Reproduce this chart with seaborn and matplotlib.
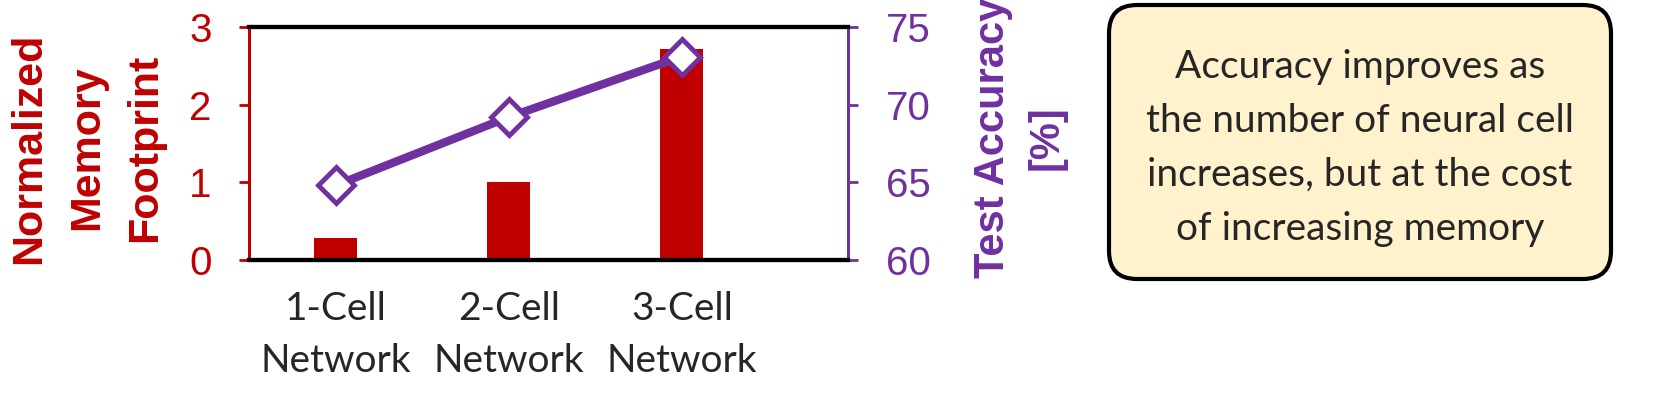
import numpy as np
import pandas as pd
import matplotlib
matplotlib.use('Agg')
import matplotlib.pyplot as plt
from matplotlib.patches import FancyBboxPatch
from matplotlib.transforms import IdentityTransform
import seaborn as sns

networks = ['1-Cell\nNetwork', '2-Cell\nNetwork', '3-Cell\nNetwork']
memory = [0.28, 1.0, 2.72]          # normalized memory footprint
accuracy = [64.8, 69.2, 73.1]       # test accuracy [%]

red = '#C00000'
purple = '#7030A0'

sns.set_style('white')
plt.rcParams['font.family'] = ['Liberation Sans', 'DejaVu Sans']

df = pd.DataFrame({'net': networks, 'mem': memory, 'acc': accuracy})

W, H = 1659, 396
fig = plt.figure(figsize=(W / 100, H / 100), dpi=100)
ax = fig.add_axes([249 / W, 1 - 260 / H, 599 / W, 233 / H])

# bars - memory footprint
sns.barplot(data=df, x='net', y='mem', color=red, saturation=1, width=0.25,
            edgecolor='none', ax=ax)
ax.set_ylim(0, 3)
ax.set_yticks([0, 1, 2, 3])
ax.set_xlabel('')
ax.set_ylabel('')
ax.tick_params(axis='y', colors=red, labelsize=29, length=7, width=2,
               direction='out', left=True, pad=20)
ax.tick_params(axis='x', length=0, pad=22)
for lbl in ax.get_xticklabels():
    lbl.set_fontfamily(['Lato', 'DejaVu Sans'])
    lbl.set_fontsize(28)
    lbl.set_linespacing(1.55)

# line - test accuracy
ax2 = ax.twinx()
sns.pointplot(data=df, x='net', y='acc', color=purple, markers='D',
              linestyles='-', markersize=18, markerfacecolor='white',
              markeredgewidth=3.5, linewidth=6, ax=ax2)
ax2.set_ylim(60, 75)
ax2.set_yticks([60, 65, 70, 75])
ax2.set_ylabel('')
ax2.tick_params(axis='y', colors=purple, labelsize=29, length=7, width=2,
                direction='out', right=True, pad=20)
ax2.set_xlabel('')

ax.set_xlim(-0.5, 2.96)
ax2.set_xlim(-0.5, 2.96)

for a in (ax, ax2):
    a.spines['top'].set_color('black')
    a.spines['top'].set_linewidth(3)
    a.spines['bottom'].set_color('black')
    a.spines['bottom'].set_linewidth(3)
    a.spines['left'].set_color(red)
    a.spines['left'].set_linewidth(2)
    a.spines['right'].set_color(purple)
    a.spines['right'].set_linewidth(2)

# axis titles
fig.text(87 / W, 1 - 148 / H, 'Normalized\nMemory\nFootprint', rotation=90,
         ha='center', va='center', color=red, fontsize=31, fontweight='bold',
         linespacing=1.58)
fig.text(1020 / W, 1 - 138 / H, 'Test Accuracy\n[%]', rotation=90,
         ha='center', va='center', color=purple, fontsize=30, fontweight='bold',
         linespacing=1.45)

# annotation box (pixel coordinates)
box = FancyBboxPatch((1109, H - 279), 502, 274,
                     boxstyle='round,pad=0,rounding_size=28',
                     transform=IdentityTransform(), facecolor='#FFF2CC',
                     edgecolor='black', linewidth=3)
fig.patches.append(box)
fig.text(1360 / W, 1 - 148 / H,
         'Accuracy improves as\nthe number of neural cell\nincreases, but at the cost\nof increasing memory',
         ha='center', va='center', fontsize=28, family=['Lato', 'DejaVu Sans'],
         linespacing=1.62)

fig.savefig('out.png', dpi=100)
